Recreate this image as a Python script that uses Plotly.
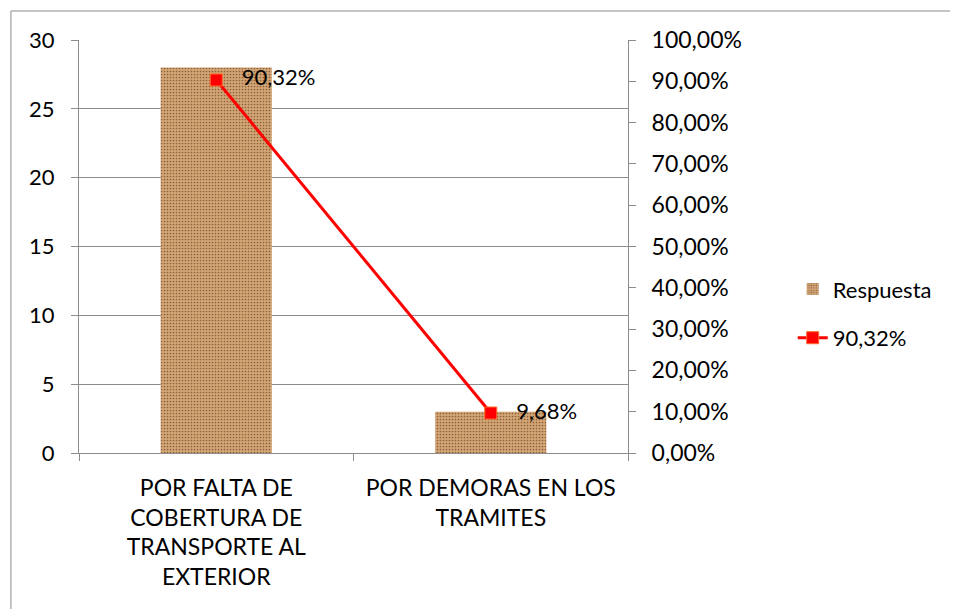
import plotly.graph_objects as go

categorias = [
    "POR FALTA DE<br>COBERTURA DE<br>TRANSPORTE AL<br>EXTERIOR",
    "POR DEMORAS EN LOS<br>TRAMITES",
]
respuesta = [28, 3]
porcentaje = [0.9032, 0.0968]
etiquetas = ["90,32%", "9,68%"]

fuente = "Lato"
gris = "#8c8c8c"

fig = go.Figure()
fig.add_trace(
    go.Bar(
        x=categorias,
        y=respuesta,
        name="Respuesta",
        legendgroup="a",
        width=0.405,
        marker=dict(
            color="#C99868",
            line=dict(width=0),
            pattern=dict(
                shape=".",
                fgcolor="#8E5E38",
                bgcolor="#D3A676",
                size=3,
                solidity=0.25,
                fillmode="replace",
            ),
        ),
        yaxis="y",
    )
)
fig.add_trace(
    go.Scatter(
        x=categorias,
        y=porcentaje,
        name="90,32%",
        legendgroup="b",
        mode="lines+markers+text",
        text=etiquetas,
        texttemplate="   %{text}",
        textposition="middle right",
        textfont=dict(size=22, color="black", family=fuente),
        line=dict(color="#FF0000", width=3),
        marker=dict(symbol="square", size=12, color="#FF0000",
                    line=dict(color="#FF6A2A", width=1)),
        yaxis="y2",
    )
)

# marco exterior del gráfico (solo bordes superior e izquierdo visibles)
marco = dict(color=gris, width=1)

fig.update_layout(
    width=950,
    height=601,
    margin=dict(l=71, r=330, t=32, b=156),
    paper_bgcolor="white",
    plot_bgcolor="white",
    separators=",.",
    font=dict(family=fuente, size=22, color="black"),
    showlegend=True,
    legend=dict(
        x=1.30, y=0.337, xanchor="left", yanchor="middle",
        font=dict(size=22), traceorder="grouped", tracegroupgap=17,
    ),
    xaxis=dict(
        showline=True, linecolor=gris, linewidth=1,
        ticks="outside", tickson="boundaries", ticklen=7, tickcolor=gris,
        tickfont=dict(size=23), showgrid=False, ticklabelstandoff=14,
    ),
    yaxis=dict(
        range=[0, 30], dtick=5, showline=True, linecolor=gris,
        ticks="outside", ticklen=7, tickcolor=gris,
        showgrid=True, gridcolor=gris, gridwidth=1,
        zeroline=False, tickfont=dict(size=22), ticklabelstandoff=12,
    ),
    yaxis2=dict(
        range=[0, 1], dtick=0.1, tickformat=".2%", overlaying="y", side="right",
        showline=True, linecolor=gris, ticks="outside", ticklen=7, tickcolor=gris,
        showgrid=False, zeroline=False, tickfont=dict(size=23), ticklabelstandoff=11,
    ),
    shapes=[
        dict(type="line", xref="paper", yref="paper",
             x0=-0.124, y0=1.0702, x1=1.8, y1=1.0702, line=marco, layer="below"),
        dict(type="line", xref="paper", yref="paper",
             x0=-0.124, y0=1.0702, x1=-0.124, y1=-0.6, line=marco, layer="below"),
    ],
)

fig.write_html("out.html")
